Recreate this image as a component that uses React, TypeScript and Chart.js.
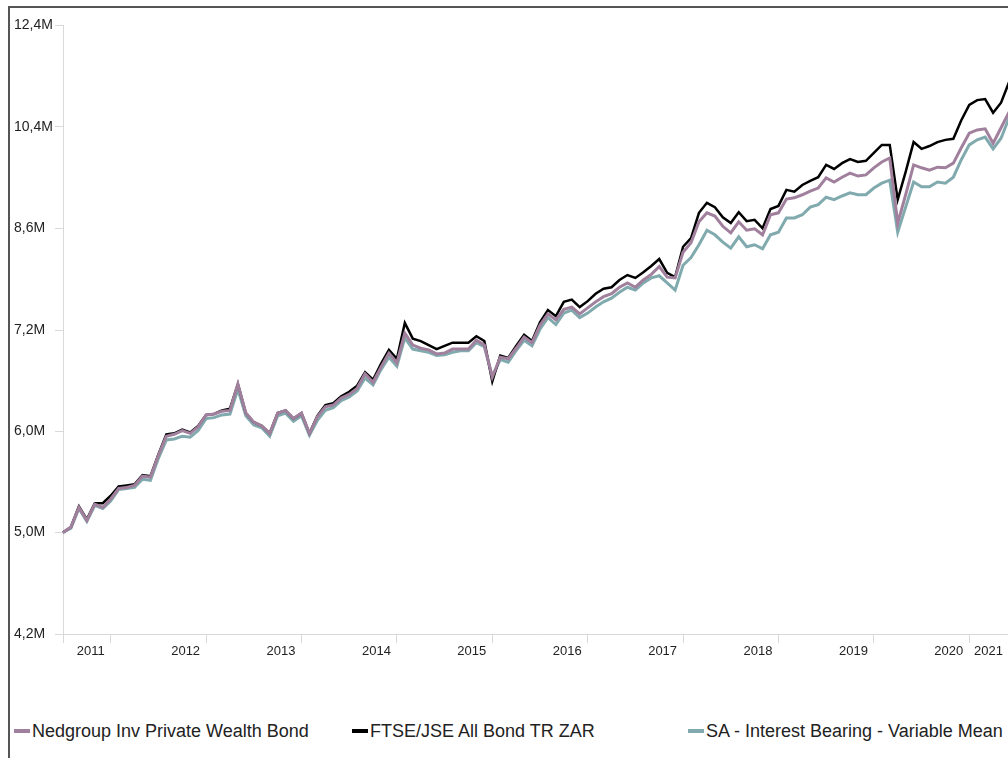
import React, { useEffect, useRef } from 'react';
import { Chart, registerables } from 'chart.js';

Chart.register(...registerables);

// Monthly series, first point = June 2011 (values in millions)
const START_YEAR = 2011;
const START_MONTH = 6;

const NEDGROUP = [
  5.03, 5.08, 5.26, 5.14, 5.29, 5.26, 5.34, 5.44, 5.45, 5.47,
  5.56, 5.55, 5.77, 5.97, 5.99, 6.03, 6.0, 6.07, 6.2, 6.21,
  6.24, 6.25, 6.55, 6.22, 6.12, 6.08, 6.0, 6.22, 6.25, 6.16,
  6.22, 6.0, 6.18, 6.29, 6.31, 6.39, 6.43, 6.5, 6.67, 6.57,
  6.75, 6.92, 6.8, 7.17, 7.02, 6.98, 6.96, 6.91, 6.92, 6.97,
  6.97, 6.97, 7.08, 7.02, 6.63, 6.87, 6.85, 6.98, 7.12, 7.05,
  7.27, 7.42, 7.34, 7.48, 7.51, 7.42, 7.5, 7.58, 7.65, 7.69,
  7.78, 7.84, 7.78, 7.88, 7.96, 8.07, 7.92, 7.91, 8.28, 8.42,
  8.74, 8.88, 8.83, 8.67, 8.57, 8.74, 8.61, 8.63, 8.54, 8.85,
  8.88, 9.1, 9.12, 9.17, 9.23, 9.28, 9.45, 9.38, 9.46, 9.53,
  9.48, 9.5, 9.62, 9.72, 9.79, 8.72, 9.17, 9.67, 9.62, 9.58,
  9.63, 9.62, 9.7, 9.97, 10.23, 10.29, 10.31, 10.05, 10.33, 10.62,
];

const FTSE_ALBI = [
  5.03, 5.08, 5.27, 5.15, 5.3, 5.3, 5.37, 5.46, 5.47, 5.48,
  5.57, 5.56, 5.78, 5.99, 6.0, 6.04, 6.01, 6.08, 6.2, 6.21,
  6.25, 6.27, 6.55, 6.22, 6.12, 6.08, 6.0, 6.22, 6.25, 6.16,
  6.22, 6.0, 6.19, 6.31, 6.33, 6.41, 6.46, 6.53, 6.69, 6.6,
  6.79, 6.96, 6.85, 7.3, 7.1, 7.07, 7.02, 6.97, 7.01, 7.05,
  7.05, 7.05, 7.13, 7.07, 6.58, 6.89, 6.86, 7.01, 7.15, 7.07,
  7.31, 7.47, 7.39, 7.58, 7.61, 7.51, 7.59, 7.69, 7.76, 7.78,
  7.88, 7.95, 7.91, 7.99, 8.08, 8.18, 7.98, 7.92, 8.36, 8.49,
  8.88, 9.04, 8.97, 8.81, 8.72, 8.89, 8.75, 8.77, 8.64, 8.94,
  8.99, 9.25, 9.22, 9.33, 9.4, 9.46, 9.67, 9.6, 9.7, 9.77,
  9.72, 9.74, 9.88, 10.02, 10.02, 9.09, 9.55, 10.07, 9.95, 10.0,
  10.07, 10.11, 10.13, 10.47, 10.76, 10.85, 10.87, 10.61, 10.8, 11.2,
];

const SA_IB_VARIABLE = [
  5.03, 5.07, 5.25, 5.13, 5.28, 5.25, 5.32, 5.43, 5.44, 5.45,
  5.53, 5.52, 5.74, 5.93, 5.94, 5.97, 5.96, 6.03, 6.16, 6.17,
  6.2, 6.21, 6.49, 6.19, 6.09, 6.06, 5.97, 6.19, 6.22, 6.13,
  6.19, 5.98, 6.14, 6.25, 6.28, 6.36, 6.4, 6.47, 6.62, 6.54,
  6.72, 6.87, 6.76, 7.11, 6.97, 6.95, 6.93, 6.89, 6.9, 6.93,
  6.95, 6.95, 7.05, 7.0, 6.64, 6.84, 6.81, 6.95, 7.08, 7.01,
  7.22, 7.37, 7.28, 7.43, 7.47, 7.37, 7.43, 7.51, 7.58, 7.63,
  7.71, 7.78, 7.74, 7.84, 7.91, 7.94, 7.84, 7.74, 8.09, 8.2,
  8.39, 8.61, 8.54, 8.43, 8.34, 8.51, 8.36, 8.39, 8.33, 8.54,
  8.58, 8.8, 8.8, 8.85, 8.97, 9.01, 9.13, 9.09, 9.15, 9.2,
  9.17, 9.17, 9.28, 9.36, 9.41, 8.58, 8.97, 9.38, 9.3, 9.3,
  9.38, 9.36, 9.46, 9.76, 10.02, 10.11, 10.16, 9.95, 10.14, 10.51,
];

const SERIES_NAMES = [
  'Nedgroup Inv Private Wealth Bond',
  'FTSE/JSE All Bond TR ZAR',
  'SA - Interest Bearing - Variable Mean',
];
const SERIES_COLORS = ['#a1809d', '#000000', '#80aaae'];

const YEAR_LABELS = ['2011', '2012', '2013', '2014', '2015', '2016', '2017', '2018', '2019', '2020', '2021'];

const Y_TICK_VALUES = [4.2, 5.03, 6.02, 7.21, 8.64, 10.35, 12.4];
const Y_TICK_LABELS = ['4,2M', '5,0M', '6,0M', '7,2M', '8,6M', '10,4M', '12,4M'];
const Y_MIN = 4.2;
const Y_MAX = 12.4;

const MONTH_LABELS = NEDGROUP.map((_, i) => {
  const m = START_MONTH - 1 + i;
  const y = START_YEAR + Math.floor(m / 12);
  return `${y}-${String((m % 12) + 1).padStart(2, '0')}`;
});

// year label sits at the end of each year (or at the last month for the partial year)
const YEAR_TICKS: { index: number; label: string }[] = YEAR_LABELS.map((y) => {
  const idx = MONTH_LABELS.indexOf(`${y}-12`);
  return { index: idx >= 0 ? idx : MONTH_LABELS.length - 1, label: y };
});

const FONT = "'Liberation Sans', Arial, Helvetica, sans-serif";

export default function App() {
  const canvasRef = useRef<HTMLCanvasElement | null>(null);

  useEffect(() => {
    if (!canvasRef.current) return;
    const seriesData = [NEDGROUP, FTSE_ALBI, SA_IB_VARIABLE];
    const tickLabelMap = new Map<number, string>();
    tickLabelMap.set(0, '');
    YEAR_TICKS.forEach((t) => tickLabelMap.set(t.index, t.label));
    const xTickIdx = Array.from(tickLabelMap.keys()).sort((a, b) => a - b);

    const chart = new Chart(canvasRef.current, {
      type: 'line',
      data: {
        labels: MONTH_LABELS,
        datasets: seriesData.map((d, k) => ({
          label: SERIES_NAMES[k],
          data: d,
          borderColor: SERIES_COLORS[k],
          backgroundColor: SERIES_COLORS[k],
          borderWidth: k === 1 ? 2.5 : 3,
          pointRadius: 0,
          tension: 0,
          fill: false,
        })),
      },
      options: {
        responsive: false,
        animation: false,
        devicePixelRatio: 1,
        layout: { padding: { top: 17, left: 4, right: 0, bottom: 0 } },
        plugins: {
          legend: { display: false },
          tooltip: { enabled: false },
        },
        scales: {
          x: {
            type: 'category',
            offset: false,
            grid: {
              display: true,
              drawOnChartArea: false,
              drawTicks: true,
              tickLength: 9,
              color: '#d9d9d9',
            },
            border: { display: true, color: '#d9d9d9', width: 1 },
            afterBuildTicks: (scale: any) => {
              scale.ticks = xTickIdx.map((v) => ({ value: v }));
            },
            afterFit: (scale: any) => {
              scale.height = 30;
            },
            ticks: {
              autoSkip: false,
              maxRotation: 0,
              minRotation: 0,
              align: 'end',
              labelOffset: -6,
              padding: 1,
              color: '#222222',
              font: { family: FONT, size: 13 },
              callback: (value: any) => tickLabelMap.get(Number(value)) ?? '',
            },
          },
          y: {
            type: 'logarithmic',
            min: Y_MIN,
            max: Y_MAX,
            grid: {
              display: true,
              drawOnChartArea: false,
              drawTicks: true,
              tickLength: 8,
              color: '#d9d9d9',
            },
            border: { display: true, color: '#d9d9d9', width: 1 },
            afterBuildTicks: (scale: any) => {
              scale.ticks = Y_TICK_VALUES.map((v) => ({ value: v }));
            },
            afterFit: (scale: any) => {
              scale.width = 49;
            },
            ticks: {
              padding: 2,
              crossAlign: 'far',
              color: '#222222',
              font: { family: FONT, size: 14 },
              callback: (_v: any, index: number) => Y_TICK_LABELS[index],
            },
          },
        },
      },
    });
    return () => chart.destroy();
  }, []);

  const legendLefts = [4, 342, 678];

  return (
    <div
      style={{
        position: 'absolute',
        left: 8,
        top: 6,
        width: 1000,
        height: 752,
        boxSizing: 'border-box',
        borderTop: '2px solid #555555',
        borderLeft: '2px solid #555555',
        overflow: 'hidden',
        background: '#ffffff',
      }}
    >
      <canvas
        ref={canvasRef}
        width={1000}
        height={656}
        style={{ position: 'absolute', left: 0, top: 0, width: 1000, height: 656 }}
      />
      {SERIES_NAMES.map((name, k) => (
        <div
          key={name}
          style={{
            position: 'absolute',
            left: legendLefts[k],
            top: 713,
            height: 20,
            display: 'flex',
            alignItems: 'center',
            whiteSpace: 'nowrap',
            fontFamily: FONT,
            fontSize: 18,
            color: '#222222',
          }}
        >
          <span
            style={{
              display: 'inline-block',
              width: 16,
              height: 4,
              background: SERIES_COLORS[k],
              marginRight: 2,
            }}
          />
          <span>{name}</span>
        </div>
      ))}
    </div>
  );
}
